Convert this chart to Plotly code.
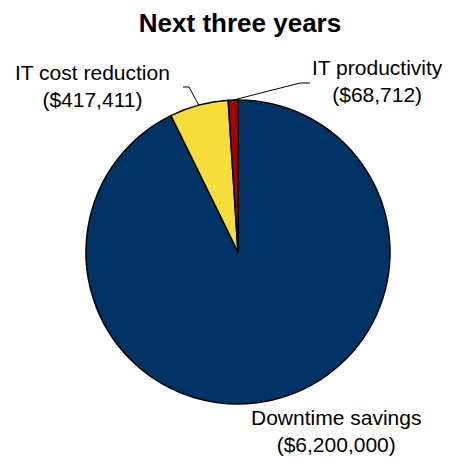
import math
import plotly.graph_objects as go

# Data
labels = ["Downtime savings", "IT cost reduction", "IT productivity"]
values = [6200000, 417411, 68712]
value_text = ["($6,200,000)", "($417,411)", "($68,712)"]
colors = ["#003366", "#F7DD3A", "#A80000"]
title = "Next three years"

W, H = 450, 461
cx, cy, r = 238, 252, 152  # pixel center / radius of the pie

fig = go.Figure(go.Pie(
    labels=labels, values=values, sort=False, direction="clockwise", rotation=0,
    marker=dict(colors=colors, line=dict(color="#000000", width=1.5)),
    textinfo="none", hoverinfo="label+value", showlegend=False,
    domain=dict(x=[(cx - r) / W, (cx + r) / W], y=[(H - cy - r) / H, (H - cy + r) / H]),
))

# label positions (pixels: x center, y center of the two-line block)
label_pos = [(336, 431), (92, 86), (377, 81)]
anchors = [None, (183, 87, 189), (310, 83, 300)]  # (x text side, y, elbow x)

total = sum(values)
cum = 0
shapes = []
annotations = []
for i, (lab, v) in enumerate(zip(labels, values)):
    mid = (cum + v / 2) / total
    cum += v
    ang = mid * 2 * math.pi
    px = cx + r * math.sin(ang)
    py = cy - r * math.cos(ang)
    lx, ly = label_pos[i]
    annotations.append(dict(
        x=lx / W, y=1 - ly / H, xref="paper", yref="paper",
        text=f"{lab}<br>{value_text[i]}", showarrow=False,
        font=dict(family="Liberation Sans, Arial", size=21, color="#000"),
        align="center", xanchor="center", yanchor="middle",
    ))
    if anchors[i] is not None:
        ax, ay, ex = anchors[i]
        path = f"M {ax/W},{1-ay/H} L {ex/W},{1-ay/H} L {px/W},{1-py/H}"
        shapes.append(dict(type="path", path=path, xref="paper", yref="paper",
                           line=dict(color="#000", width=1)))

fig.update_layout(
    width=W, height=H, margin=dict(l=0, r=0, t=0, b=0),
    paper_bgcolor="white", plot_bgcolor="white",
    title=dict(text=f"<b>{title}</b>", x=240 / W, xanchor="center", y=1 - 23 / H, yanchor="middle",
               font=dict(family="Liberation Sans, Arial", size=26, color="#000")),
    annotations=annotations, shapes=shapes,
)

fig.write_html("out.html")
